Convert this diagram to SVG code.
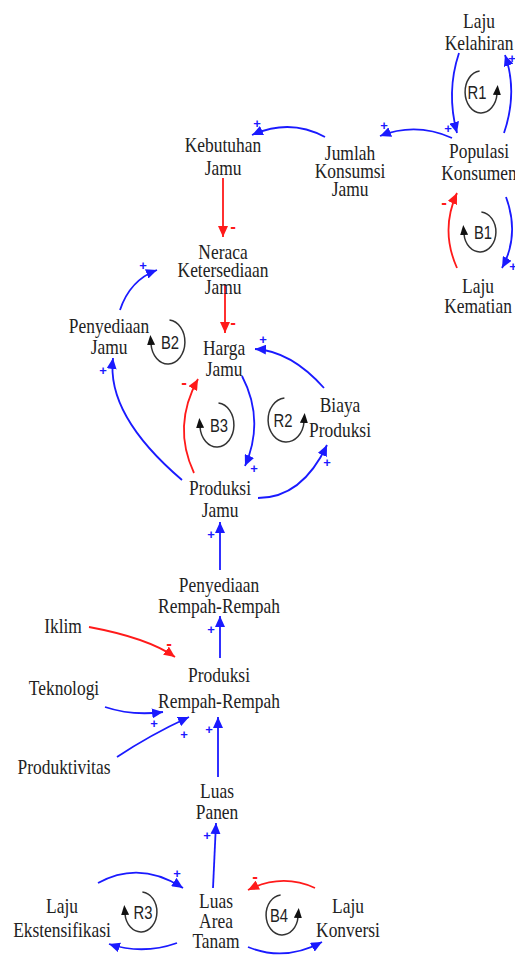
<svg xmlns="http://www.w3.org/2000/svg" width="515" height="956" viewBox="0 0 515 956">
<style>
.t{font-family:"Liberation Serif","Times New Roman",serif;font-size:21px;fill:#222;text-anchor:middle}
.lp{font-family:"Liberation Sans",Arial,sans-serif;font-size:19px;fill:#222;text-anchor:middle}
.b{fill:none;stroke:#1a1aff;stroke-width:1.8}
.r{fill:none;stroke:#ff1a1a;stroke-width:1.8}
.loop{fill:none;stroke:#333;stroke-width:1.5}
.sp{font-family:"Liberation Sans",Arial,sans-serif;font-size:13px;font-weight:bold;fill:#1a1aff;text-anchor:middle;dominant-baseline:central}
.sm{font-family:"Liberation Sans",Arial,sans-serif;font-size:17px;font-weight:bold;fill:#ff1a1a;text-anchor:middle;dominant-baseline:central}
</style>
<defs>
<marker id="ab" markerUnits="userSpaceOnUse" markerWidth="12" markerHeight="10" refX="11" refY="5" orient="auto"><path d="M0,0 L11,5 L0,10 Z" fill="#1a1aff"/></marker>
<marker id="ar" markerUnits="userSpaceOnUse" markerWidth="12" markerHeight="10" refX="11" refY="5" orient="auto"><path d="M0,0 L11,5 L0,10 Z" fill="#ff1a1a"/></marker>
<marker id="ak" markerUnits="userSpaceOnUse" markerWidth="11" markerHeight="8" refX="1" refY="4" orient="auto"><path d="M0,0 L10,4 L0,8 Z" fill="#111"/></marker>
</defs>

<g id="connectors">
<path class="b" marker-end="url(#ab)" d="M459,53 Q446,92 457,133"/>
<path class="b" marker-end="url(#ab)" d="M504,133 Q518,92 505,55"/>
<path class="b" marker-end="url(#ab)" d="M452,138 Q416,122 380,136"/>
<path class="b" marker-end="url(#ab)" d="M325,137 Q290,118 252,135"/>
<path class="b" marker-end="url(#ab)" d="M506,197 Q520,235 502,268"/>
<path class="r" marker-end="url(#ar)" d="M457,268 Q440,230 457,193"/>
<path class="r" marker-end="url(#ar)" d="M223,178 L223,237"/>
<path class="r" marker-end="url(#ar)" d="M225,285 L225,333"/>
<path class="b" marker-end="url(#ab)" d="M120,310 Q130,280 157,270"/>
<path class="b" marker-end="url(#ab)" d="M182,480 Q106,415 113,358"/>
<path class="r" marker-end="url(#ar)" d="M194,473 Q172,426 198,379"/>
<path class="b" marker-end="url(#ab)" d="M242,376 Q265,420 245,466"/>
<path class="b" marker-end="url(#ab)" d="M258,498 Q302,498 327,445"/>
<path class="b" marker-end="url(#ab)" d="M324,388 Q291,351 255,349"/>
<path class="b" marker-end="url(#ab)" d="M220,570 L220,522"/>
<path class="b" marker-end="url(#ab)" d="M220,658 L220,616"/>
<path class="r" marker-end="url(#ar)" d="M89,627 Q148,638 175,657"/>
<path class="b" marker-end="url(#ab)" d="M105,707 Q132,716 163,712"/>
<path class="b" marker-end="url(#ab)" d="M117,757 Q150,735 189,717"/>
<path class="b" marker-end="url(#ab)" d="M218,777 L218,717"/>
<path class="b" marker-end="url(#ab)" d="M213,888 L216,823"/>
<path class="b" marker-end="url(#ab)" d="M98,883 Q140,860 183,888"/>
<path class="b" marker-end="url(#ab)" d="M177,943 Q143,955 109,944"/>
<path class="r" marker-end="url(#ar)" d="M315,888 Q282,873 248,890"/>
<path class="b" marker-end="url(#ab)" d="M248,947 Q285,962 322,942"/>
</g>

<g id="signs">
<text class="sp" x="448" y="128">+</text>
<text class="sp" x="512" y="58">+</text>
<text class="sp" x="384" y="125">+</text>
<text class="sp" x="257" y="123">+</text>
<text class="sp" x="513" y="266">+</text>
<text class="sm" x="444" y="202">-</text>
<text class="sm" x="233" y="226">-</text>
<text class="sm" x="233" y="322">-</text>
<text class="sp" x="143" y="265">+</text>
<text class="sp" x="103" y="370">+</text>
<text class="sm" x="184" y="382">-</text>
<text class="sp" x="254" y="468">+</text>
<text class="sp" x="327" y="462">+</text>
<text class="sp" x="263" y="339">+</text>
<text class="sp" x="211" y="534">+</text>
<text class="sp" x="211" y="629">+</text>
<text class="sm" x="169" y="643">-</text>
<text class="sp" x="154" y="723">+</text>
<text class="sp" x="184" y="734">+</text>
<text class="sp" x="209" y="729">+</text>
<text class="sp" x="207" y="835">+</text>
<text class="sp" x="177" y="873">+</text>
<text class="sm" x="255" y="876">-</text>
</g>

<g id="loops">
<g id="loop-R1"><path class="loop" marker-end="url(#ak)" d="M479.6,71 A16,21 0 1 0 497,94"/><text class="lp" transform="translate(477,99) scale(0.78,1)">R1</text></g>
<g id="loop-B1"><path class="loop" marker-end="url(#ak)" d="M481.4,212 A16,20 0 1 1 464,234"/><text class="lp" transform="translate(483,239) scale(0.78,1)">B1</text></g>
<g id="loop-B2"><path class="loop" marker-end="url(#ak)" d="M169.5,320 A17,22 0 1 1 151,344"/><text class="lp" transform="translate(170,349) scale(0.78,1)">B2</text></g>
<g id="loop-B3"><path class="loop" marker-end="url(#ak)" d="M218.5,403 A17,22 0 1 1 200,427"/><text class="lp" transform="translate(219,432) scale(0.78,1)">B3</text></g>
<g id="loop-R2"><path class="loop" marker-end="url(#ak)" d="M284.4,398 A18,22 0 1 0 304,422"/><text class="lp" transform="translate(283,427) scale(0.78,1)">R2</text></g>
<g id="loop-R3"><path class="loop" marker-end="url(#ak)" d="M142.4,892 A16,20 0 1 1 125,914"/><text class="lp" transform="translate(143,919) scale(0.78,1)">R3</text></g>
<g id="loop-B4"><path class="loop" marker-end="url(#ak)" d="M280.6,895 A16,20 0 1 0 298,917"/><text class="lp" transform="translate(279,922) scale(0.78,1)">B4</text></g>
</g>

<g id="node-laju-kelahiran"><text class="t" transform="translate(479,0) scale(0.83,1)"><tspan x="0" y="28">Laju</tspan><tspan x="0" y="50">Kelahiran</tspan></text></g>
<g id="node-populasi-konsumen"><text class="t" transform="translate(479,0) scale(0.83,1)"><tspan x="0" y="158">Populasi</tspan><tspan x="0" y="180">Konsumen</tspan></text></g>
<g id="node-laju-kematian"><text class="t" transform="translate(478,0) scale(0.83,1)"><tspan x="0" y="293">Laju</tspan><tspan x="0" y="313">Kematian</tspan></text></g>
<g id="node-jumlah-konsumsi-jamu"><text class="t" transform="translate(350,0) scale(0.83,1)"><tspan x="0" y="160">Jumlah</tspan><tspan x="0" y="178">Konsumsi</tspan><tspan x="0" y="196">Jamu</tspan></text></g>
<g id="node-kebutuhan-jamu"><text class="t" transform="translate(223,0) scale(0.83,1)"><tspan x="0" y="152">Kebutuhan</tspan><tspan x="0" y="175">Jamu</tspan></text></g>
<g id="node-neraca"><text class="t" transform="translate(223,0) scale(0.83,1)"><tspan x="0" y="259">Neraca</tspan><tspan x="0" y="277">Ketersediaan</tspan><tspan x="0" y="294">Jamu</tspan></text></g>
<g id="node-penyediaan-jamu"><text class="t" transform="translate(109,0) scale(0.83,1)"><tspan x="0" y="333">Penyediaan</tspan><tspan x="0" y="354">Jamu</tspan></text></g>
<g id="node-harga-jamu"><text class="t" transform="translate(224,0) scale(0.83,1)"><tspan x="0" y="355">Harga</tspan><tspan x="0" y="376">Jamu</tspan></text></g>
<g id="node-biaya-produksi"><text class="t" transform="translate(340,0) scale(0.83,1)"><tspan x="0" y="412">Biaya</tspan><tspan x="0" y="437">Produksi</tspan></text></g>
<g id="node-produksi-jamu"><text class="t" transform="translate(220,0) scale(0.83,1)"><tspan x="0" y="495">Produksi</tspan><tspan x="0" y="517">Jamu</tspan></text></g>
<g id="node-penyediaan-rempah"><text class="t" transform="translate(219,0) scale(0.83,1)"><tspan x="0" y="592">Penyediaan</tspan><tspan x="0" y="613">Rempah-Rempah</tspan></text></g>
<g id="node-iklim"><text class="t" transform="translate(63,0) scale(0.83,1)"><tspan x="0" y="633">Iklim</tspan></text></g>
<g id="node-produksi-rempah"><text class="t" transform="translate(219,0) scale(0.83,1)"><tspan x="0" y="682">Produksi</tspan><tspan x="0" y="708">Rempah-Rempah</tspan></text></g>
<g id="node-teknologi"><text class="t" transform="translate(64,0) scale(0.83,1)"><tspan x="0" y="695">Teknologi</tspan></text></g>
<g id="node-produktivitas"><text class="t" transform="translate(64,0) scale(0.83,1)"><tspan x="0" y="774">Produktivitas</tspan></text></g>
<g id="node-luas-panen"><text class="t" transform="translate(217,0) scale(0.83,1)"><tspan x="0" y="798">Luas</tspan><tspan x="0" y="819">Panen</tspan></text></g>
<g id="node-laju-ekstensifikasi"><text class="t" transform="translate(62,0) scale(0.83,1)"><tspan x="0" y="913">Laju</tspan><tspan x="0" y="937">Ekstensifikasi</tspan></text></g>
<g id="node-luas-area-tanam"><text class="t" transform="translate(216,0) scale(0.83,1)"><tspan x="0" y="908">Luas</tspan><tspan x="0" y="928">Area</tspan><tspan x="0" y="948">Tanam</tspan></text></g>
<g id="node-laju-konversi"><text class="t" transform="translate(348,0) scale(0.83,1)"><tspan x="0" y="913">Laju</tspan><tspan x="0" y="937">Konversi</tspan></text></g>
</svg>
